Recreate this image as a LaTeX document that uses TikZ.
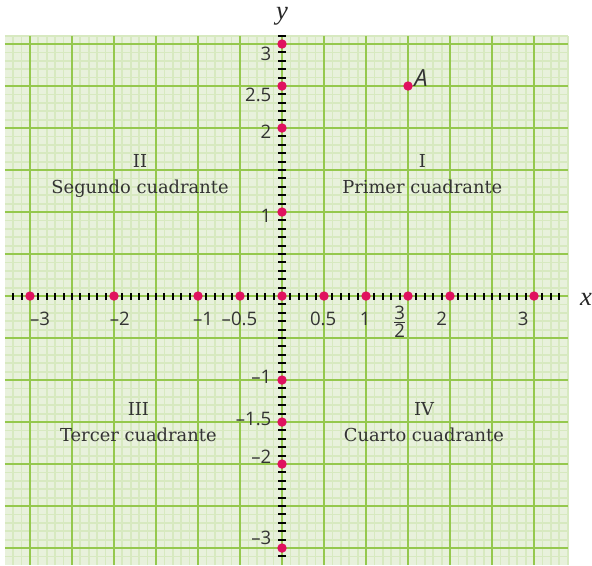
\documentclass[tikz,border=0pt]{standalone}
\usepackage{fontspec}
\setmainfont{DejaVu Serif}
\newfontfamily\numfont{Open Sans}
\newfontfamily\axfont{Liberation Serif}
\usetikzlibrary{calc}
\definecolor{papel}{RGB}{232,241,220}
\definecolor{fino}{RGB}{215,233,192}
\definecolor{grueso}{RGB}{149,200,78}
\definecolor{rojo}{RGB}{224,17,95}
\tikzset{
        num/.style={font=\numfont\fontsize{6.3}{7}\selectfont, text=black!80, inner sep=0pt},
        cuad/.style={font=\fontsize{6.05}{8.8}\selectfont, align=center, text=black!80, inner sep=0pt},
        eje/.style={font=\axfont\itshape\fontsize{9}{10}\selectfont, text=black!85, inner sep=0pt},
        pto/.style={fill=rojo}
}

\begin{document}
\begin{tikzpicture}
        \useasboundingbox (-3.357,-3.202) rectangle (3.690,3.524);
        \fill[papel] (-3.3,-3.2) rectangle (3.4,3.1);
        \draw[fino, line width=0.6pt] (-3.3,-3.2) grid[step=0.1] (3.4,3.1);
        \draw[grueso, line width=0.7pt] (-3.3,-3.2) grid[step=0.5] (3.4,3.1);

        % ejes
        \coordinate (O) at (0,0);
        \draw[grueso, line width=0.8pt] (-3.3,0) -- (3.4,0);
        \draw[grueso, line width=0.8pt] (0,-3.2) -- (0,3.1);
        \foreach \t in {-32,...,33} \draw[line width=0.7pt] (\t/10,-0.042) -- (\t/10,0.042);
        \foreach \t in {-31,...,31} \draw[line width=0.7pt] (-0.042,\t/10) -- (0.042,\t/10);
        \node[eje, anchor=base] (ly) at (0,3.29) {y};
        \node[eje, anchor=base] (lx) at (3.62,-0.107) {x};

        % puntos
        \foreach \p in {-3,-2,-1,-0.5,0,0.5,1,1.5,2,3} \fill[pto] (\p,0) circle (0.056);
        \foreach \p in {-3,-2,-1.5,-1,1,2,2.5,3} \fill[pto] (0,\p) circle (0.056);
        \coordinate (A) at (1.5,2.5);
        \fill[pto] (A) circle (0.056);
        \node[num, anchor=base west, font=\numfont\itshape\fontsize{8}{9}\selectfont] (lA) at (1.57,2.49) {A};

        % valores
        \foreach \x/\s [count=\i] in {-2.88/\textendash3, -1.93/\textendash2, -0.94/\textendash1, -0.506/\textendash0.5, 0.49/0.5, 0.99/1, 1.90/2, 2.87/3}
                \node[num, anchor=base] (nx\i) at (\x,-0.345) {\s};
        \node[num] (nx9) at (1.40,-0.31) {$\frac{\mbox{\numfont 3}}{\mbox{\numfont 2}}$};
        \foreach \y/\s [count=\i] in {2.80/3, 2.32/2.5, 1.88/2, 0.88/1, -1.04/\textendash1, -1.54/\textendash1.5, -1.99/\textendash2, -2.96/\textendash3}
                \node[num, anchor=base east] (ny\i) at (-0.12,\y) {\s};

        % cuadrantes
        \node[cuad, anchor=base] (q1) at (1.67,1.226) {I\\Primer cuadrante};
        \node[cuad, anchor=base] (q2) at (-1.69,1.226) {II\\Segundo cuadrante};
        \node[cuad, anchor=base] (q3) at (-1.71,-1.726) {III\\Tercer cuadrante};
        \node[cuad, anchor=base] (q4) at (1.69,-1.726) {IV\\Cuarto cuadrante};
\end{tikzpicture}
\end{document}
